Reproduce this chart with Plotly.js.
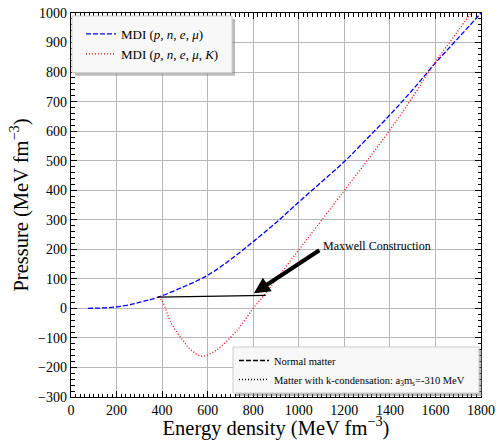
<!DOCTYPE html>
<html>
<head>
<meta charset="utf-8">
<script src="https://cdn.plot.ly/plotly-3.0.1.min.js"></script>
<style>html,body{margin:0;padding:0;background:#fff;}#chart{width:496px;height:440px;}</style>
</head>
<body>
<div id="chart"></div>
<script>
// Blue: MDI (p, n, e, mu)
const blueE = [74, 200, 300, 382, 500, 600, 700, 800, 900, 1000, 1100, 1200, 1300, 1400, 1500, 1600, 1700, 1800];
const blueP = [0, 5, 20, 38, 75, 112, 165, 226, 290, 360, 428, 497, 575, 655, 740, 831, 915, 1000];
// Red: MDI (p, n, e, mu, K)
const redE = [382, 400, 440, 490, 525, 575, 620, 660, 730, 800, 850, 900, 1000, 1100, 1200, 1300, 1400, 1500, 1600, 1700, 1760];
const redP = [38, 25, -50, -107, -140, -162, -150, -128, -73, 0, 47, 97, 198, 298, 399, 500, 604, 715, 835, 940, 1005];
// Maxwell construction line
const maxE = [382, 855];
const maxP = [38, 44];
// Arrow
const arrowTail = [1097, 200];
const arrowHead = [803, 51];
const xRange = [0, 1800];
const yRange = [-300, 1000];
const xTickStep = 200;
const yTickStep = 100;
const minorStep = 20;

const L = 71, R = 15, T = 13, B = 43, W = 496, H = 440;
const pw = W - L - R, ph = H - T - B;
const px = x => (x - L) / pw;
const py = y => (H - B - y) / ph;

const serif = 'Liberation Serif, serif';

const traces = [
  {x: blueE, y: blueP, mode: 'lines', name: 'MDI (<i>p</i>, <i>n</i>, <i>e</i>, <i>μ</i>)',
   line: {color: '#0000ff', width: 1.3, dash: '5px,2px', shape: 'spline'}, legend: 'legend'},
  {x: redE, y: redP, mode: 'lines', name: 'MDI (<i>p</i>, <i>n</i>, <i>e</i>, <i>μ</i>, <i>K</i>)',
   line: {color: '#ff0000', width: 1.3, dash: '1px,2px', shape: 'spline'}, legend: 'legend'},
  {x: maxE, y: maxP, mode: 'lines', showlegend: false, line: {color: '#000', width: 1.2}},
  {x: [null], y: [null], mode: 'lines', name: 'Normal matter',
   line: {color: '#000', width: 1.5, dash: '5px,2px'}, legend: 'legend2'},
  {x: [null], y: [null], mode: 'lines', name: 'Matter with k-condensation: a<sub>3</sub>m<sub>s</sub>=-310 MeV',
   line: {color: '#000', width: 1.5, dash: '1px,2px'}, legend: 'legend2'},
  {x: [null], y: [null], xaxis: 'x2', yaxis: 'y2', mode: 'lines', showlegend: false, hoverinfo: 'skip'}
];

function box(x0, y0, x1, y1) {
  return [
    {type: 'rect', xref: 'paper', yref: 'paper', x0: px(x0 + 3), x1: px(x1 + 3), y0: py(y1 + 3), y1: py(y0 + 3),
     fillcolor: 'rgba(120,120,120,0.5)', line: {width: 0}, layer: 'above'},
    {type: 'rect', xref: 'paper', yref: 'paper', x0: px(x0), x1: px(x1), y0: py(y1), y1: py(y0),
     fillcolor: 'rgba(248,248,248,1)', line: {color: '#cccccc', width: 1}, layer: 'above'}
  ];
}

const axisCommon = {
  showline: true, linecolor: '#000', linewidth: 1.2, mirror: 'allticks',
  ticks: 'inside', ticklen: 6, tickwidth: 1.1, tickcolor: '#000',
  showgrid: true, gridcolor: '#b8b8b8', gridwidth: 1, zeroline: false,
  tickfont: {family: serif, size: 14, color: '#000'}
};
const minorCommon = {
  showline: false, showgrid: false, zeroline: false, showticklabels: false,
  ticks: 'inside', ticklen: 3.5, tickwidth: 1, tickcolor: '#000', mirror: 'ticks', tickmode: 'linear', tick0: 0, dtick: minorStep
};

const layout = {
  width: W, height: H,
  font: {family: serif, color: '#000'},
  margin: {l: L, r: R, t: T, b: B},
  paper_bgcolor: '#fff', plot_bgcolor: '#fff',
  xaxis: Object.assign({}, axisCommon, {
    range: xRange, tickmode: 'linear', tick0: 0, dtick: xTickStep,
    title: {text: 'Energy density (MeV fm<sup>−3</sup>)', font: {family: serif, size: 20.5, color: '#000'}, standoff: 5}
  }),
  yaxis: Object.assign({}, axisCommon, {
    range: yRange, tickmode: 'linear', tick0: 0, dtick: yTickStep,
    title: {text: 'Pressure (MeV fm<sup>−3</sup>)', font: {family: serif, size: 20.5, color: '#000'}, standoff: 4}
  }),
  xaxis2: Object.assign({}, minorCommon, {range: xRange, overlaying: 'x', anchor: 'y2', side: 'bottom'}),
  yaxis2: Object.assign({}, minorCommon, {range: yRange, overlaying: 'y', anchor: 'x2', side: 'left'}),
  legend: {x: px(81), y: py(19), xanchor: 'left', yanchor: 'top', bgcolor: 'rgba(0,0,0,0)', borderwidth: 0,
    font: {family: serif, size: 13, color: '#000'}, itemwidth: 30, tracegroupgap: 0},
  legend2: {x: px(234), y: py(346), xanchor: 'left', yanchor: 'top', bgcolor: 'rgba(0,0,0,0)', borderwidth: 0,
    font: {family: serif, size: 10.5, color: '#000'}, itemwidth: 30},
  shapes: [].concat(box(72, 16, 232, 72.7), box(233, 347, 479, 393)),
  annotations: [
    {x: arrowHead[0], y: arrowHead[1], ax: arrowTail[0], ay: arrowTail[1], axref: 'x', ayref: 'y', xref: 'x', yref: 'y',
     text: '', showarrow: true, arrowhead: 2, arrowsize: 0.8, arrowwidth: 4, arrowcolor: '#000'},
    {x: 1097, y: 212, xref: 'x', yref: 'y', text: 'Maxwell Construction', showarrow: false,
     xanchor: 'left', yanchor: 'middle', font: {family: serif, size: 12, color: '#000'}}
  ]
};

Plotly.newPlot('chart', traces, layout, {displayModeBar: false, staticPlot: true});
</script>
</body>
</html>
